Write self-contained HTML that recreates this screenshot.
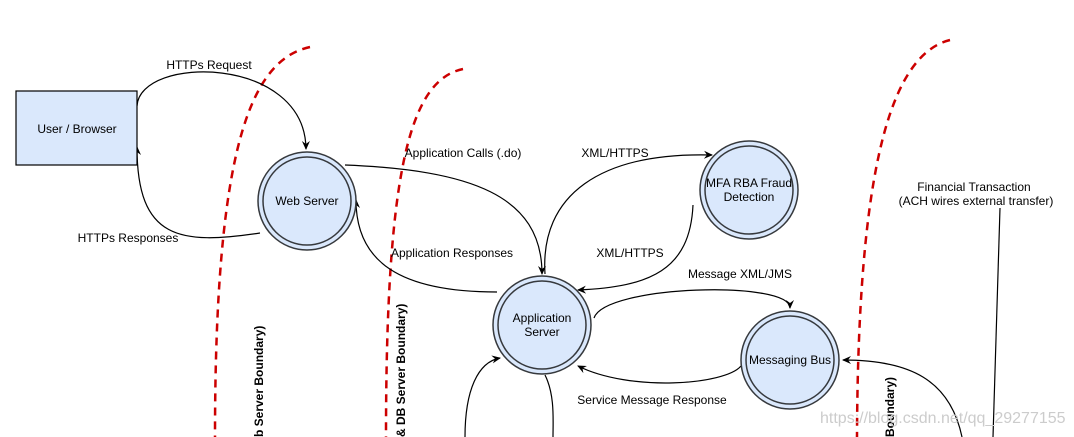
<!DOCTYPE html>
<html><head><meta charset="utf-8"><style>
html,body{margin:0;padding:0;background:#fff;}
svg{display:block;font-family:"Liberation Sans",sans-serif;font-size:12px;}
</style></head><body>
<svg width="1074" height="437" viewBox="0 0 1074 437" xmlns="http://www.w3.org/2000/svg">
<defs>
<marker id="a" markerWidth="10" markerHeight="10" refX="8" refY="5" orient="auto" markerUnits="userSpaceOnUse">
<path d="M0,1 L9,5 L0,9 L3,5 Z" fill="#000"/>
</marker>
</defs>
<g fill="none" stroke="#c00" stroke-width="2.5" stroke-dasharray="8,6">
<path d="M310,47 C250,60 215,150 215,437"/>
<path d="M463,69 C410,80 386,170 386,437"/>
<path d="M950,40 C890,55 858,170 857,437"/>
</g>
<g fill="none" stroke="#000" stroke-width="1.2">
<path d="M137,106 C140,55 305,55 306,149" marker-end="url(#a)"/>
<path d="M260,233 C180,245 137,240 137,147" marker-end="url(#a)"/>
<path d="M345,165 C470,170 542,195 542,274" marker-end="url(#a)"/>
<path d="M497,292 C400,292 356,262 356,200" marker-end="url(#a)"/>
<path d="M545,274 C540,195 600,152 712,155" marker-end="url(#a)"/>
<path d="M693,205 C690,270 650,287 578,290" marker-end="url(#a)"/>
<path d="M594,318 C605,285 790,280 790,308" marker-end="url(#a)"/>
<path d="M741,366 C725,385 630,392 578,366" marker-end="url(#a)"/>
<path d="M962,437 C950,380 910,360 843,360" marker-end="url(#a)"/>
<path d="M1000,208 L993,437"/>
<path d="M465,437 C465,390 478,362 500,358" marker-end="url(#a)"/>
<path d="M545,375 C555,395 553,420 553,437"/>
</g>
<rect x="16" y="91" width="121" height="74" fill="#dae8fc" stroke="#000" stroke-width="1.2"/>
<g fill="#dae8fc" stroke="#36393d" stroke-width="1.5">
<circle cx="307" cy="201" r="49"/><circle cx="307" cy="201" r="44" />
<circle cx="542" cy="325" r="49"/><circle cx="542" cy="325" r="44"/>
<circle cx="749" cy="190" r="49"/><circle cx="749" cy="190" r="44"/>
<circle cx="790" cy="360" r="49"/><circle cx="790" cy="360" r="44"/>
</g>
<g fill="#000" text-anchor="middle">
<text x="77" y="133">User / Browser</text>
<text x="307" y="205">Web Server</text>
<text x="542" y="322">Application</text>
<text x="542" y="336">Server</text>
<text x="749" y="187">MFA RBA Fraud</text>
<text x="749" y="201">Detection</text>
<text x="790" y="364">Messaging Bus</text>
<text x="209" y="69">HTTPs Request</text>
<text x="128" y="242">HTTPs Responses</text>
<text x="463" y="157">Application Calls (.do)</text>
<text x="452" y="257">Application Responses</text>
<text x="615" y="157">XML/HTTPS</text>
<text x="630" y="257">XML/HTTPS</text>
<text x="740" y="278">Message XML/JMS</text>
<text x="652" y="404">Service Message Response</text>
<text x="974" y="191">Financial Transaction</text>
<text x="976" y="205">(ACH wires external transfer)</text>
</g>
<g font-weight="bold" fill="#000">
<text transform="translate(263,437) rotate(-90)" x="0" y="0">b Server Boundary)</text>
<text transform="translate(405,437) rotate(-90)" x="0" y="0">&amp; DB Server Boundary)</text>
<text transform="translate(894,437) rotate(-90)" x="0" y="0">Boundary)</text>
</g>
<text x="820" y="423" fill="#ccc" font-size="16">https://blog.csdn.net/qq_29277155</text>
</svg>
</body></html>
